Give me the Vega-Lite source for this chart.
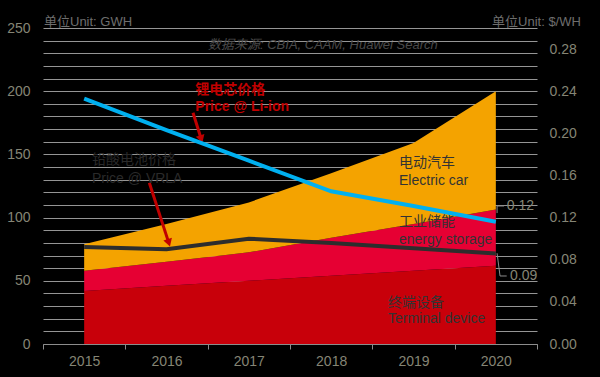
{
  "$schema": "https://vega.github.io/schema/vega-lite/v6.json",
  "width": 494,
  "height": 316,
  "autosize": {"type": "none"},
  "padding": {"left": 43, "top": 28, "right": 63, "bottom": 33},
  "background": "#000000",
  "config": {
    "view": {"stroke": null},
    "font": "Liberation Sans, Noto Sans CJK SC, sans-serif",
    "axis": {"labelFont": "Liberation Sans, Noto Sans CJK SC, sans-serif"}
  },
  "datasets": {
    "areas": [
      {"year": 2015, "series": "Terminal device", "value": 42},
      {"year": 2016, "series": "Terminal device", "value": 46},
      {"year": 2017, "series": "Terminal device", "value": 50},
      {"year": 2018, "series": "Terminal device", "value": 54},
      {"year": 2019, "series": "Terminal device", "value": 58},
      {"year": 2020, "series": "Terminal device", "value": 62},
      {"year": 2015, "series": "Energy storage", "value": 16},
      {"year": 2016, "series": "Energy storage", "value": 19},
      {"year": 2017, "series": "Energy storage", "value": 22.5},
      {"year": 2018, "series": "Energy storage", "value": 30},
      {"year": 2019, "series": "Energy storage", "value": 37},
      {"year": 2020, "series": "Energy storage", "value": 44.5},
      {"year": 2015, "series": "Electric car", "value": 21},
      {"year": 2016, "series": "Electric car", "value": 30},
      {"year": 2017, "series": "Electric car", "value": 39.5},
      {"year": 2018, "series": "Electric car", "value": 51},
      {"year": 2019, "series": "Electric car", "value": 64},
      {"year": 2020, "series": "Electric car", "value": 93.5}
    ],
    "prices": [
      {"year": 2015, "series": "Li-ion", "price": 0.233},
      {"year": 2016, "series": "Li-ion", "price": 0.203},
      {"year": 2017, "series": "Li-ion", "price": 0.174},
      {"year": 2018, "series": "Li-ion", "price": 0.145},
      {"year": 2019, "series": "Li-ion", "price": 0.131},
      {"year": 2020, "series": "Li-ion", "price": 0.116},
      {"year": 2015, "series": "VRLA", "price": 0.092},
      {"year": 2016, "series": "VRLA", "price": 0.090},
      {"year": 2017, "series": "VRLA", "price": 0.100},
      {"year": 2018, "series": "VRLA", "price": 0.096},
      {"year": 2019, "series": "VRLA", "price": 0.091},
      {"year": 2020, "series": "VRLA", "price": 0.086}
    ],
    "redLabels": [
      {"year": 2016.35, "value": 201, "text": "锂电芯价格"},
      {"year": 2016.35, "value": 187.5, "text": "Price @ Li-ion"}
    ],
    "vrlaLabels": [
      {"year": 2015.095, "value": 145.6, "text": "铅酸电池价格"},
      {"year": 2015.095, "value": 130.5, "text": "Price @ VRLA"}
    ],
    "areaLabels": [
      {"year": 2018.824, "value": 143.4, "text": "电动汽车"},
      {"year": 2018.824, "value": 129.2, "text": "Electric car"},
      {"year": 2018.824, "value": 96.5, "text": "工业储能"},
      {"year": 2018.824, "value": 82.3, "text": "energy storage"},
      {"year": 2018.69, "value": 32.7, "text": "终端设备"},
      {"year": 2018.69, "value": 19.5, "text": "Terminal device"}
    ],
    "units": [
      {"year": 2014.512, "value": 254.7, "text": "单位Unit: GWH"},
      {"year": 2019.954, "value": 254.7, "text": "单位Unit: $/WH"}
    ],
    "source": [
      {"year": 2016.504, "value": 236.6, "text": "数据来源: CBIA, CAAM, Huawei  Search"}
    ],
    "valueLabels": [
      {"year": 2020.132, "value": 109.2, "text": "0.12"},
      {"year": 2020.172, "value": 53.8, "text": "0.09"}
    ],
    "arrows": [
      {"year": 2016.322, "value": 183, "year2": 2016.422, "value2": 162.2},
      {"year": 2015.791, "value": 127.6, "year2": 2016.028, "value2": 80.0}
    ],
    "heads": [
      {"year": 2016.422, "value": 162.2},
      {"year": 2016.028, "value": 80.0}
    ],
    "leaders": [
      {"id": "a", "i": 1, "year": 2020.015, "value": 103.6},
      {"id": "a", "i": 2, "year": 2020.015, "value": 109.2},
      {"id": "a", "i": 3, "year": 2020.1, "value": 109.2},
      {"id": "b", "i": 1, "year": 2020.015, "value": 71.8},
      {"id": "b", "i": 2, "year": 2020.051, "value": 53.8},
      {"id": "b", "i": 3, "year": 2020.132, "value": 53.8}
    ]
  },
  "layer": [
    {
      "encoding": {
        "x": {
          "field": "year", "type": "quantitative",
          "scale": {"domain": [2014.5, 2020.5], "nice": false, "zero": false},
          "axis": {
            "values": [2014.5, 2015, 2015.5, 2016, 2016.5, 2017, 2017.5, 2018, 2018.5, 2019, 2019.5, 2020, 2020.5],
            "labelExpr": "datum.value % 1 == 0 ? format(datum.value, 'd') : ''",
            "tickOpacity": {"condition": {"test": "datum.value % 1 != 0", "value": 1}, "value": 0},
            "grid": false, "title": null,
            "domainColor": "#8c8c8c", "tickColor": "#8c8c8c", "tickSize": 5,
            "labelColor": "#858575", "labelFontSize": 14, "labelPadding": 5,
            "labelOverlap": false, "labelFlush": false
          }
        },
        "y": {
          "field": "value", "type": "quantitative",
          "scale": {"domain": [0, 250], "nice": false},
          "axis": {
            "values": [0, 10, 20, 30, 40, 50, 60, 70, 80, 90, 100, 110, 120, 130, 140, 150, 160, 170, 180, 190, 200, 210, 220, 230, 240, 250],
            "labelExpr": "datum.value % 50 == 0 ? format(datum.value, 'd') : ''",
            "ticks": false, "domain": false, "grid": true,
            "gridColor": "#959595", "gridWidth": 1,
            "labelColor": "#858575", "labelFontSize": 14, "labelPadding": 13,
            "labelOverlap": false, "title": null
          }
        }
      },
      "layer": [
        {
          "data": {"name": "areas"},
          "mark": {"type": "area", "interpolate": "linear"},
          "encoding": {
            "y": {"field": "value", "type": "quantitative", "stack": "zero"},
            "color": {
              "field": "series", "type": "nominal",
              "sort": ["Terminal device", "Energy storage", "Electric car"],
              "scale": {"domain": ["Terminal device", "Energy storage", "Electric car"], "range": ["#C8000A", "#E60033", "#F4A300"]},
              "legend": null
            }
          }
        },
        {
          "data": {"name": "leaders"},
          "mark": {"type": "line", "color": "#8c8c8c", "strokeWidth": 1},
          "encoding": {
            "detail": {"field": "id"},
            "order": {"field": "i"}
          }
        },
        {
          "data": {"name": "arrows"},
          "mark": {"type": "rule", "color": "#C00000", "strokeWidth": 3},
          "encoding": {
            "x2": {"field": "year2"},
            "y2": {"field": "value2"}
          }
        },
        {
          "data": {"name": "heads"},
          "mark": {"type": "point", "shape": "triangle-down", "filled": true, "color": "#C00000", "opacity": 1, "size": 80, "angle": -17.5},
          "encoding": {}
        },
        {
          "data": {"name": "redLabels"},
          "mark": {"type": "text", "align": "left", "baseline": "middle", "fontSize": 14, "fontWeight": "bold", "color": "#C00000"},
          "encoding": {"text": {"field": "text"}}
        },
        {
          "data": {"name": "vrlaLabels"},
          "mark": {"type": "text", "align": "left", "baseline": "middle", "fontSize": 14, "color": "#2a2a2a"},
          "encoding": {"text": {"field": "text"}}
        },
        {
          "data": {"name": "areaLabels"},
          "mark": {"type": "text", "align": "left", "baseline": "middle", "fontSize": 14, "color": "#333333"},
          "encoding": {"text": {"field": "text"}}
        },
        {
          "data": {"name": "units"},
          "mark": {"type": "text", "align": "left", "baseline": "middle", "fontSize": 13, "color": "#6e6e6e"},
          "encoding": {"text": {"field": "text"}}
        },
        {
          "data": {"name": "source"},
          "mark": {"type": "text", "align": "left", "baseline": "middle", "fontSize": 13, "fontStyle": "italic", "color": "#4a4a4a"},
          "encoding": {"text": {"field": "text"}}
        },
        {
          "data": {"name": "valueLabels"},
          "mark": {"type": "text", "align": "left", "baseline": "middle", "fontSize": 14, "color": "#858575"},
          "encoding": {"text": {"field": "text"}}
        }
      ]
    },
    {
      "data": {"name": "prices"},
      "mark": {"type": "line", "strokeWidth": 4},
      "encoding": {
        "x": {"field": "year", "type": "quantitative"},
        "y": {
          "field": "price", "type": "quantitative",
          "scale": {"domain": [0, 0.3], "nice": false},
          "axis": {
            "orient": "right",
            "values": [0, 0.04, 0.08, 0.12, 0.16, 0.2, 0.24, 0.28],
            "format": ".2f",
            "ticks": false, "domain": false, "grid": false,
            "labelColor": "#858575", "labelFontSize": 14, "labelPadding": 12,
            "labelOverlap": false, "title": null
          }
        },
        "color": {
          "field": "series", "type": "nominal",
          "scale": {"domain": ["Li-ion", "VRLA"], "range": ["#00B0F0", "#2d2d2d"]},
          "legend": null
        }
      }
    }
  ],
  "resolve": {"scale": {"y": "independent", "color": "independent"}}
}
